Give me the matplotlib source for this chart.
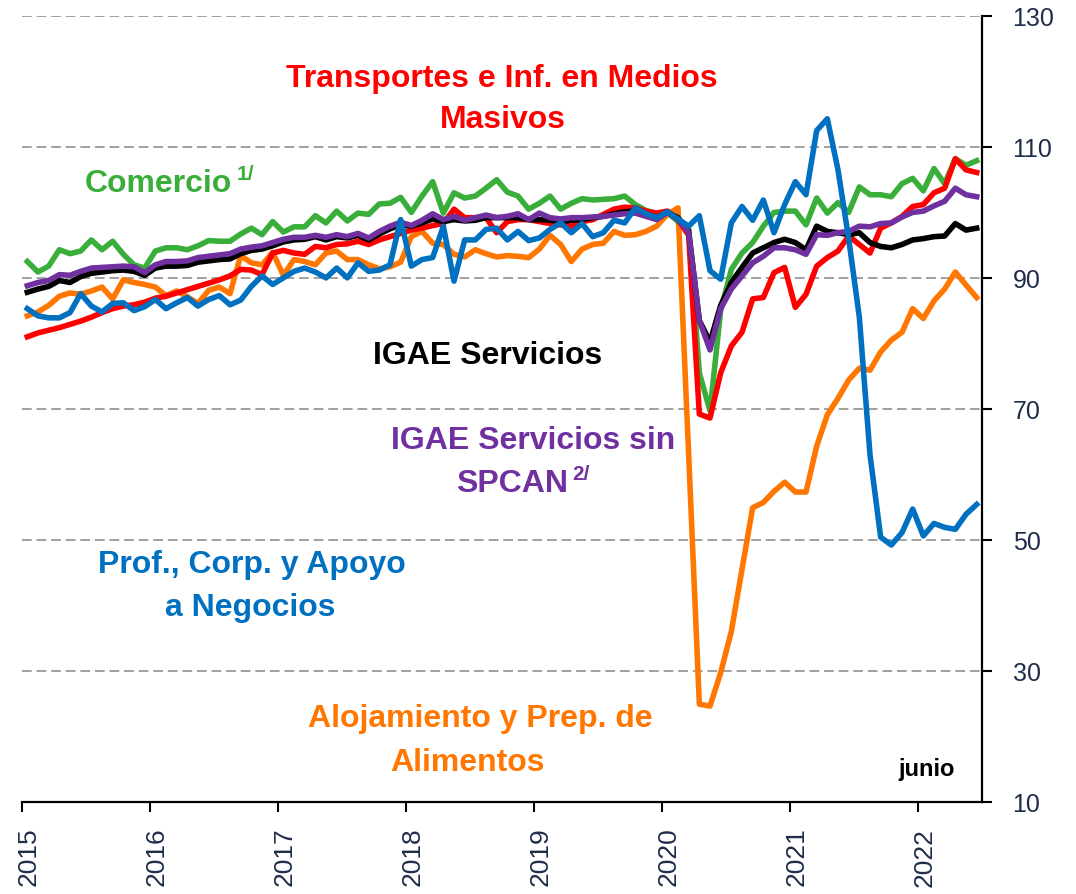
import matplotlib
matplotlib.use('Agg')
import matplotlib.pyplot as plt
import matplotlib.transforms as mtransforms
from matplotlib import font_manager
import numpy as np

# Indices mensuales, enero 2015 - junio 2022
anios = ['2015', '2016', '2017', '2018', '2019', '2020', '2021', '2022']

comercio = [92.5, 90.9, 91.8, 94.3, 93.7, 94.1, 95.8, 94.3, 95.6, 93.6,
            92.0, 91.5, 94.1, 94.6, 94.6, 94.3, 94.9, 95.7, 95.6, 95.6,
            96.7, 97.6, 96.6, 98.6, 97.0, 97.8, 97.8, 99.5, 98.4, 100.2,
            98.7, 99.9, 99.7, 101.3, 101.4, 102.3, 100.0, 102.5, 104.7, 99.9,
            103.0, 102.2, 102.5, 103.7, 105.0, 103.1, 102.5, 100.5, 101.4, 102.5,
            100.5, 101.4, 102.1, 101.9, 102.0, 102.1, 102.5, 101.2, 100.3, 99.8,
            100.0, 98.6, 97.5, 75.5, 69.7, 85.0, 91.3, 93.8, 95.4, 97.9,
            100.0, 100.2, 100.2, 98.1, 102.2, 99.9, 101.5, 100.0, 103.9, 102.7,
            102.7, 102.4, 104.4, 105.2, 103.3, 106.7, 104.4, 108.2, 107.2, 107.9]

transportes = [81.0, 81.6, 82.0, 82.4, 82.9, 83.4, 84.0, 84.7, 85.3, 85.7,
               85.9, 86.3, 86.9, 87.2, 87.7, 88.2, 88.7, 89.2, 89.7, 90.3,
               91.3, 91.2, 90.5, 93.8, 94.2, 93.8, 93.6, 94.8, 94.6, 95.1,
               95.2, 95.6, 95.1, 95.8, 96.3, 96.8, 97.3, 97.6, 98.0, 98.3,
               100.5, 99.2, 99.2, 99.2, 96.9, 98.6, 98.9, 98.9, 98.6, 98.3,
               98.1, 97.9, 98.6, 98.9, 99.7, 100.5, 100.8, 100.7, 100.2, 99.9,
               100.2, 98.9, 96.5, 69.2, 68.6, 75.5, 79.6, 81.7, 86.8, 87.0,
               90.8, 91.6, 85.5, 87.5, 91.8, 93.1, 94.1, 96.4, 95.1, 93.8,
               97.6, 98.4, 99.4, 100.9, 101.2, 103.0, 103.7, 108.2, 106.5, 106.1]

servicios = [87.8, 88.3, 88.7, 89.6, 89.3, 90.2, 90.7, 90.9, 91.1, 91.2,
             91.0, 90.4, 91.5, 91.8, 91.8, 91.9, 92.4, 92.6, 92.8, 92.9,
             93.7, 94.2, 94.4, 94.9, 95.5, 95.8, 95.9, 96.3, 95.8, 96.3,
             96.1, 96.5, 95.8, 96.7, 97.5, 98.1, 97.9, 98.4, 99.0, 98.6,
             98.9, 98.7, 98.8, 99.2, 99.2, 99.2, 99.2, 98.9, 98.9, 98.8,
             98.6, 98.8, 98.9, 99.2, 99.4, 99.8, 100.1, 100.2, 99.7, 99.2,
             100.0, 99.2, 97.1, 83.5, 80.2, 85.8, 89.3, 91.6, 93.8, 94.6,
             95.4, 95.9, 95.4, 94.3, 97.9, 97.1, 96.9, 96.6, 96.9, 95.4,
             94.8, 94.6, 95.1, 95.8, 96.0, 96.3, 96.4, 98.3, 97.3, 97.6]

servicios_sin_spcan = [88.8, 89.3, 89.6, 90.5, 90.4, 91.0, 91.5, 91.6, 91.7, 91.8,
                       91.7, 90.8, 92.0, 92.5, 92.5, 92.6, 93.1, 93.3, 93.5, 93.7,
                       94.4, 94.7, 94.9, 95.4, 95.9, 96.2, 96.2, 96.5, 96.2, 96.6,
                       96.3, 96.8, 96.1, 97.1, 97.9, 98.5, 98.0, 98.8, 99.8, 98.9,
                       99.4, 98.8, 99.2, 99.6, 99.2, 99.4, 99.8, 98.9, 99.9, 99.2,
                       99.0, 99.2, 99.2, 99.3, 99.4, 99.6, 99.8, 99.9, 99.4, 98.9,
                       100.0, 98.9, 96.9, 83.5, 79.0, 85.3, 88.3, 90.3, 92.3, 93.3,
                       94.6, 94.6, 94.3, 93.6, 96.6, 96.5, 96.9, 97.1, 97.9, 97.8,
                       98.3, 98.4, 99.3, 100.0, 100.2, 101.0, 101.7, 103.7, 102.7, 102.4]

profesionales = [85.3, 84.2, 83.9, 83.9, 84.7, 87.6, 85.7, 84.8, 86.1, 86.2,
                 85.0, 85.6, 86.7, 85.3, 86.2, 87.0, 85.7, 86.7, 87.3, 85.9,
                 86.6, 88.7, 90.3, 89.0, 90.0, 91.0, 91.5, 90.9, 90.0, 91.5,
                 90.0, 92.3, 91.0, 91.2, 92.0, 98.9, 91.8, 92.8, 93.1, 97.9,
                 89.5, 95.8, 95.8, 97.4, 97.6, 95.8, 97.1, 95.7, 96.1, 97.4,
                 98.4, 96.9, 98.3, 96.3, 96.9, 98.8, 98.4, 100.7, 99.8, 99.2,
                 100.1, 99.0, 97.9, 99.5, 91.1, 89.8, 98.4, 100.9, 98.8, 101.9,
                 96.9, 101.2, 104.7, 102.7, 112.5, 114.3, 106.5, 96.0, 84.0, 63.0,
                 50.4, 49.2, 51.1, 54.7, 50.6, 52.5, 51.9, 51.6, 53.9, 55.4]

alojamiento = [84.2, 84.8, 85.8, 87.2, 87.7, 87.5, 88.0, 88.6, 86.8, 89.7,
               89.3, 89.0, 88.6, 87.3, 88.0, 87.1, 86.1, 88.1, 88.6, 87.6,
               93.4, 92.3, 92.0, 93.9, 90.4, 92.8, 92.5, 92.0, 93.8, 94.1,
               92.8, 92.8, 92.0, 91.4, 91.7, 92.4, 96.3, 97.1, 95.3, 95.1,
               93.6, 93.2, 94.3, 93.7, 93.2, 93.4, 93.3, 93.1, 94.4, 96.5,
               95.1, 92.5, 94.4, 95.1, 95.3, 97.1, 96.5, 96.6, 97.1, 97.9,
               99.7, 100.7, 63.0, 24.9, 24.6, 29.7, 36.0, 45.5, 54.9, 55.7,
               57.4, 58.8, 57.3, 57.3, 64.3, 69.1, 71.6, 74.4, 76.2, 75.9,
               78.7, 80.5, 81.7, 85.3, 83.8, 86.5, 88.3, 90.9, 88.9, 87.0]

verde = '#3AAE3A'
rojo = '#FF0000'
morado = '#7030A0'
azul = '#0070C0'
naranja = '#FF7700'
azul_texto = '#1F2D4B'

instaladas = {f.name for f in font_manager.fontManager.ttflist}
angosta = 'Liberation Sans Narrow' in instaladas
fuente_ejes = 'Liberation Sans Narrow' if angosta else 'Liberation Sans'
fuente = 'Liberation Sans'

W, H = 1076, 895
fig = plt.figure(figsize=(W / 100, H / 100), dpi=100)
ax = fig.add_axes([22 / W, 1 - 802.7 / H, 960 / W, 785.7 / H])

meses = np.arange(len(comercio))
grosor = 4.0
ax.plot(meses, alojamiento, color=naranja, lw=grosor, solid_joinstyle='round', zorder=3)
ax.plot(meses, comercio, color=verde, lw=grosor, solid_joinstyle='round', zorder=3)
ax.plot(meses, transportes, color=rojo, lw=grosor, solid_joinstyle='round', zorder=3)
ax.plot(meses, servicios, color='black', lw=grosor, solid_joinstyle='round', zorder=3)
ax.plot(meses, servicios_sin_spcan, color=morado, lw=grosor, solid_joinstyle='round', zorder=3)
ax.plot(meses, profesionales, color=azul, lw=grosor, solid_joinstyle='round', zorder=3)

ax.set_xlim(-0.5, len(comercio) - 0.5)
ax.set_ylim(10, 130)

# lineas guia punteadas
for v in range(30, 131, 20):
    ax.axhline(v, color='#A0A0A0', lw=1.4, ls=(0, (5, 2.5)), zorder=1)

for lado in ['left', 'top']:
    ax.spines[lado].set_visible(False)
for lado in ['right', 'bottom']:
    ax.spines[lado].set_linewidth(1.6)
    ax.spines[lado].set_color('black')

ax.yaxis.tick_right()
ax.set_yticks(range(10, 131, 20))
ax.tick_params(axis='y', direction='out', length=7, width=1.5, pad=15,
               labelsize=21 if angosta else 18, labelcolor=azul_texto)
ax.set_xticks(np.arange(len(anios)) * 12 - 0.5)
ax.set_xticklabels(anios, rotation=90)
ax.tick_params(axis='x', direction='out', length=7, width=1.5, pad=11,
               labelsize=23 if angosta else 19, labelcolor=azul_texto)
for lbl in ax.get_yticklabels() + ax.get_xticklabels():
    lbl.set_fontfamily(fuente_ejes)
desplaza = mtransforms.ScaledTranslation(7 / 100, 0, fig.dpi_scale_trans)
for lbl in ax.get_xticklabels():
    lbl.set_transform(lbl.get_transform() + desplaza)


def etiqueta(x, y, texto, color, size=23, ha='center'):
    return fig.text(x / W, 1 - y / H, texto, color=color, fontsize=size,
                    fontweight='bold', ha=ha, va='baseline', family=fuente)


def superindice(base, texto, color, alto=12):
    # coloca el "1/" o "2/" justo despues del texto base
    fig.canvas.draw()
    caja = base.get_window_extent()
    x = caja.x1 + 4
    y_base = base.get_transform().transform(base.get_position())[1]
    fig.text(x / W, (y_base + alto) / H, texto, color=color, fontsize=15,
             fontweight='bold', ha='left', va='baseline', family=fuente)


etiqueta(502, 87, 'Transportes e Inf. en Medios', rojo)
etiqueta(503, 128, 'Masivos', rojo)
t_com = etiqueta(85, 192, 'Comercio', verde, ha='left')
superindice(t_com, '1/', verde)
etiqueta(488, 364, 'IGAE Servicios', 'black')
etiqueta(533, 449, 'IGAE Servicios sin', morado)
t_sp = etiqueta(512, 492, 'SPCAN', morado)
superindice(t_sp, '2/', morado)
etiqueta(252, 573, 'Prof., Corp. y Apoyo', azul)
etiqueta(250, 616, 'a Negocios', azul)
etiqueta(480, 727, 'Alojamiento y Prep. de', naranja)
etiqueta(467, 771, 'Alimentos', naranja)
etiqueta(927, 776, 'junio', 'black', size=17)

fig.savefig('out.png', dpi=100)
